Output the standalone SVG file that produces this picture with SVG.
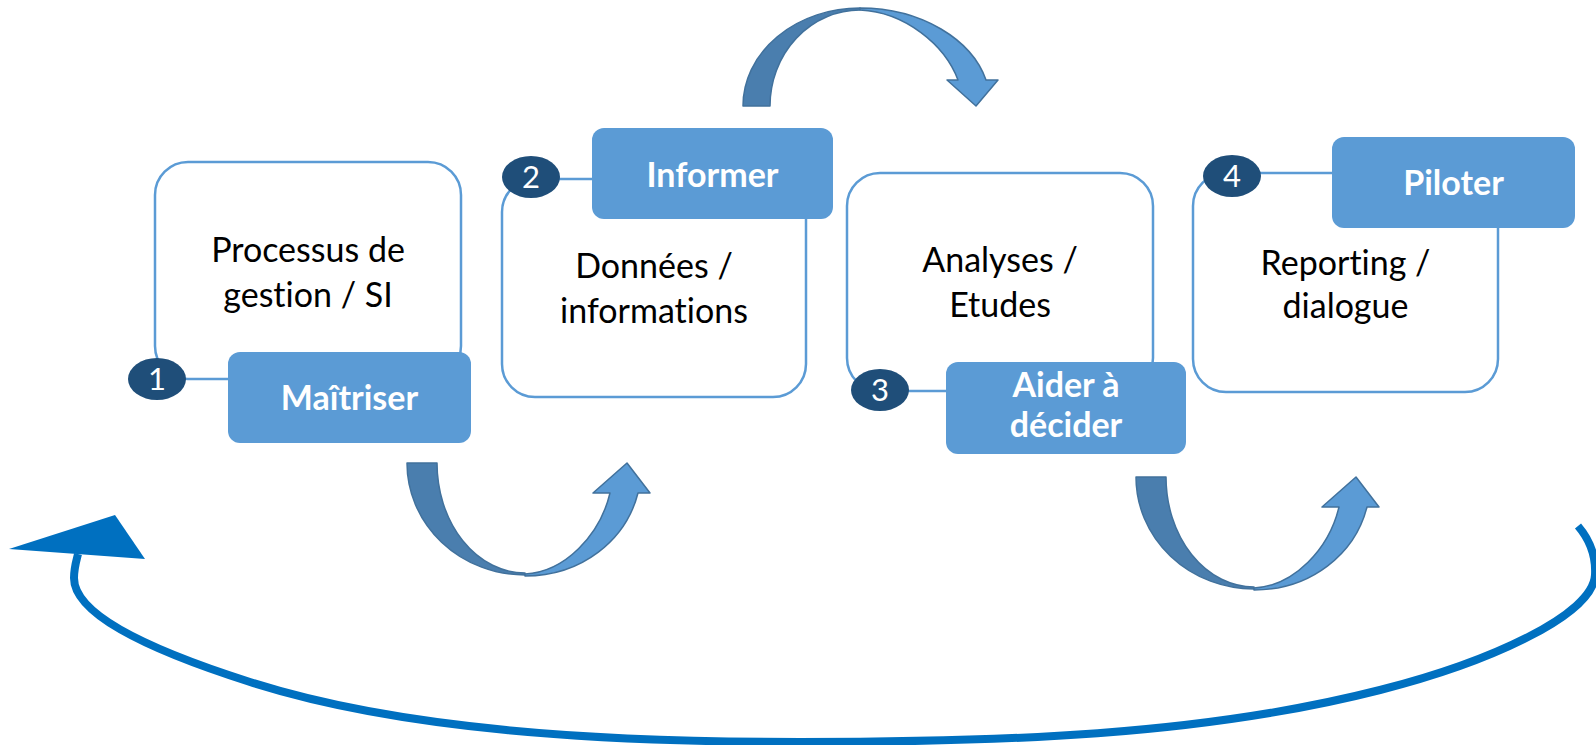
<svg xmlns="http://www.w3.org/2000/svg" xmlns:xlink="http://www.w3.org/1999/xlink" width="1596" height="745" viewBox="0 0 1596 745">
<style>
text{font-variant-ligatures:none;font-feature-settings:"liga" 0,"clig" 0}
.box{fill:#FFFFFF;stroke:#5B9BD5;stroke-width:2.5}
.lbl{fill:#5B9BD5}
.num{fill:#1F4E79}
.numt{font-family:Lato,"Liberation Sans",sans-serif;font-size:31px;fill:#FFFFFF;text-anchor:middle}
.body{font-family:Lato,"Liberation Sans",sans-serif;font-size:34px;fill:#000000;text-anchor:middle}
.lt{font-family:Lato,"Liberation Sans",sans-serif;font-size:34px;font-weight:bold;fill:#FFFFFF;text-anchor:middle}
.dk{fill:#4A7EAE;stroke:#41719C;stroke-width:1.5;stroke-linejoin:round}
.lg{fill:#5B9BD5;stroke:#41719C;stroke-width:1.5;stroke-linejoin:round}
.loop{fill:none;stroke:#0070C0;stroke-width:8}
</style>
<defs>
<g id="uarrow">
<path class="dk" d="M 407,463 A 118,112 0 0 0 525,575 L 525,573 A 88,110 0 0 1 437,463 Z"/>
<path class="lg" d="M 525,576 C 582,576 626,540 638,493 L 650,493 L 627,463 L 593,493 L 610,493 C 600,535 565,572 525,574 Z"/>
</g>
</defs>
<rect width="1596" height="745" fill="#FFFFFF"/>
<g id="connectors">
<use xlink:href="#uarrow" href="#uarrow"/>
<use xlink:href="#uarrow" href="#uarrow" transform="translate(729,14)"/>
<g id="top-arrow">
<path class="dk" d="M 743,106 A 117,98 0 0 1 860,8 L 860,10 A 90,96 0 0 0 770,106 Z"/>
<path class="lg" d="M 860,8 C 922,8 972,40 986,80 L 998,80 L 976,106 L 947,80 L 958,80 C 945,45 905,12 860,10 Z"/>
</g>
<g id="loop">
<path class="loop" d="M 1578,526 C 1590,540 1596,557 1595,575 C 1593,615 1490,662 1380,690 C 1200,736 1000,742 800,742 C 600,742 400,730 250,682 C 140,647 74,612 74,578 C 74,568 76,562 78,554"/>
<polygon fill="#0070C0" points="9,549 115,515 145,559"/>
</g>
</g>
<g id="node1">
<rect class="box" x="155" y="162" width="306" height="217" rx="33"/>
<text class="body" x="308" y="262">Processus de</text>
<text class="body" x="308" y="307">gestion / SI</text>
<rect class="lbl" x="228" y="352" width="243" height="91" rx="12"/>
<text class="lt" x="349.5" y="410">Maîtriser</text>
<ellipse class="num" cx="157" cy="379" rx="29" ry="21"/>
<text class="numt" x="157" y="390">1</text>
</g>
<g id="node2">
<rect class="box" x="502" y="179" width="304" height="218" rx="33"/>
<text class="body" x="654" y="278">Données /</text>
<text class="body" x="654" y="323">informations</text>
<rect class="lbl" x="592" y="128" width="241" height="91" rx="12"/>
<text class="lt" x="712.5" y="187">Informer</text>
<ellipse class="num" cx="531" cy="177" rx="29" ry="21"/>
<text class="numt" x="531" y="188">2</text>
</g>
<g id="node3">
<rect class="box" x="847" y="173" width="306" height="218" rx="33"/>
<text class="body" x="1000" y="272">Analyses /</text>
<text class="body" x="1000" y="317">Etudes</text>
<rect class="lbl" x="946" y="362" width="240" height="92" rx="12"/>
<text class="lt" x="1066" y="397">Aider à</text>
<text class="lt" x="1066" y="437">décider</text>
<ellipse class="num" cx="880" cy="390" rx="29" ry="21"/>
<text class="numt" x="880" y="401">3</text>
</g>
<g id="node4">
<rect class="box" x="1193" y="173" width="305" height="219" rx="33"/>
<text class="body" x="1345.5" y="275">Reporting /</text>
<text class="body" x="1345.5" y="318">dialogue</text>
<rect class="lbl" x="1332" y="137" width="243" height="91" rx="12"/>
<text class="lt" x="1453.5" y="195">Piloter</text>
<ellipse class="num" cx="1232" cy="176" rx="29" ry="21"/>
<text class="numt" x="1232" y="187">4</text>
</g>
</svg>
